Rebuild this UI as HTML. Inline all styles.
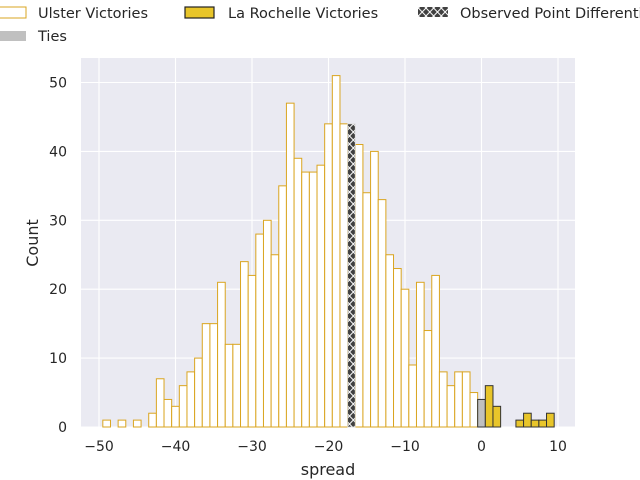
<!DOCTYPE html>
<html><head><meta charset="utf-8"><style>
html,body{margin:0;padding:0;background:#fff;}
svg{display:block;font-family:"DejaVu Sans","Liberation Sans",sans-serif;}
</style></head><body>
<svg id="s" width="640" height="480" viewBox="0 0 640 480" xmlns="http://www.w3.org/2000/svg">
<defs>
<pattern id="hx" x="349.5" y="0" width="7.65" height="8" patternUnits="userSpaceOnUse">
<rect width="7.65" height="8" fill="#404040"/>
<path d="M0,0 L7.65,8 M7.65,0 L0,8" stroke="#fff" stroke-width="1"/>
</pattern>
</defs>
<rect x="81" y="58" width="494" height="369" fill="#eaeaf2"/>
<g id="grid" stroke="#fff" stroke-width="1.1"></g>
<g id="bars"></g>
<g id="tx" font-size="14" fill="#262626"></g>
<text x="328" y="475" font-size="16" text-anchor="middle" fill="#262626">spread</text>
<text transform="translate(38,243) rotate(-90)" font-size="16" text-anchor="middle" fill="#262626">Count</text>
<rect x="-4" y="7" width="30" height="11" fill="#fff" stroke="#daa520" stroke-width="1"/>
<text x="38" y="18" font-size="14.5" fill="#262626">Ulster Victories</text>
<rect x="185" y="7" width="29" height="11" fill="#e8c52a" stroke="#222" stroke-width="1.2"/>
<text x="228" y="18" font-size="14.5" fill="#262626">La Rochelle Victories</text>
<rect x="418" y="7" width="30" height="10" fill="url(#hx)"/>
<text x="460" y="18" font-size="14.5" fill="#262626">Observed Point Differential</text>
<rect x="-4" y="31" width="30" height="10" fill="#c0c0c0"/>
<text x="38" y="41" font-size="14.5" fill="#262626">Ties</text>
</svg>
<script>
var NS="http://www.w3.org/2000/svg";
function el(p,t,a){var e=document.createElementNS(NS,t);for(var k in a)e.setAttribute(k,a[k]);p.appendChild(e);return e;}
var X=function(v){return 481.5+7.65*v;},Y=function(c){return 427-6.89*c;};
var W=7.65,H=W/2;
var g=document.getElementById('grid'),tx=document.getElementById('tx'),b=document.getElementById('bars');
[-50,-40,-30,-20,-10,0,10].forEach(function(v){el(g,'line',{x1:X(v),x2:X(v),y1:58,y2:427});var t=el(tx,'text',{x:X(v),y:451,'text-anchor':'middle'});t.textContent=(v<0?'\u2212'+(-v):v);});
[0,10,20,30,40,50].forEach(function(c){el(g,'line',{x1:81,x2:575,y1:Y(c),y2:Y(c)});var t=el(tx,'text',{x:67,y:Y(c)+5,'text-anchor':'end'});t.textContent=c;});
var u={'-49':1,'-47':1,'-45':1,'-43':2,'-42':7,'-41':4,'-40':3,'-39':6,'-38':8,'-37':10,'-36':15,'-35':15,'-34':21,'-33':12,'-32':12,'-31':24,'-30':22,'-29':28,'-28':30,'-27':25,'-26':35,'-25':47,'-24':39,'-23':37,'-22':37,'-21':38,'-20':44,'-19':51,'-18':44,'-16':41,'-15':34,'-14':40,'-13':33,'-12':25,'-11':23,'-10':20,'-9':9,'-8':21,'-7':14,'-6':22,'-5':8,'-4':6,'-3':8,'-2':8,'-1':5};
for(var k in u){var v=+k;el(b,'rect',{x:X(v)-H,y:Y(u[k]),width:W,height:6.89*u[k],fill:'#fff',stroke:'#daa520','stroke-width':1});}
el(b,'rect',{x:X(-17)-H,y:Y(44),width:W,height:6.89*44,fill:'url(#hx)',stroke:'#ddd','stroke-width':0.8});
el(b,'rect',{x:X(0)-H,y:Y(4),width:W,height:6.89*4,fill:'#c0c0c0',stroke:'#333','stroke-width':1});
var r={1:6,2:3,5:1,6:2,7:1,8:1,9:2};
for(var k in r){var v=+k;el(b,'rect',{x:X(v)-H,y:Y(r[k]),width:W,height:6.89*r[k],fill:'#e8c52a',stroke:'#333','stroke-width':1});}
</script>
</body></html>
